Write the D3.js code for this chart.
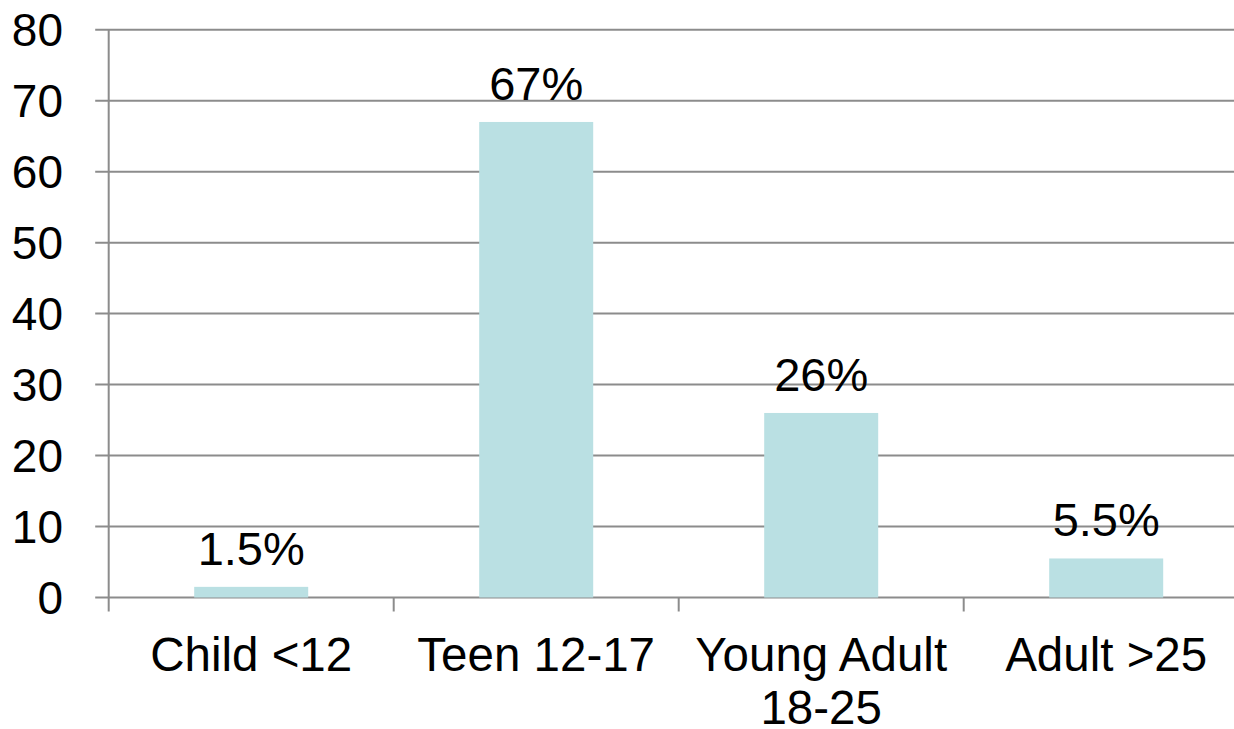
<!DOCTYPE html>
<html>
<head>
<meta charset="utf-8">
<script src="https://cdn.jsdelivr.net/npm/d3@7"></script>
<style>
  html, body { margin: 0; padding: 0; background: #ffffff; }
  svg { display: block; }
</style>
</head>
<body>
<div id="chart"></div>
<script>
// Chart data
const categories = ["Child <12", "Teen 12-17", "Young Adult 18-25", "Adult >25"];
const categoryLines = [["Child <12"], ["Teen 12-17"], ["Young Adult", "18-25"], ["Adult >25"]];
const values = [1.5, 67, 26, 5.5];
const yTicks = [0, 10, 20, 30, 40, 50, 60, 70, 80];

const width = 1234;
const height = 729;
const left = 108.7;
const step = 285;
const fontFamily = "'Liberation Sans', Arial, sans-serif";
const gridColor = "#8c8c8c";
const barColor = "#bae0e3";

const svg = d3.select("#chart")
    .append("svg")
    .attr("width", width)
    .attr("height", height);

// Scales (plot extends slightly past the right edge, as in the original)
const x = d3.scaleBand()
    .domain(categories)
    .range([left, left + step * categories.length])
    .padding(0);

const y = d3.scaleLinear()
    .domain([0, 80])
    .range([597.5, 29.7]);

// Gridlines + y tick stubs
svg.append("g")
    .selectAll("line")
    .data(yTicks)
    .join("line")
    .attr("x1", left - 13.5)
    .attr("x2", width + 20)
    .attr("y1", d => y(d))
    .attr("y2", d => y(d))
    .style("stroke", gridColor)
    .style("stroke-width", 2);

// Y tick labels
svg.append("g")
    .selectAll("text")
    .data(yTicks)
    .join("text")
    .attr("x", 63)
    .attr("y", d => y(d) + 16)
    .attr("text-anchor", "end")
    .style("font-family", fontFamily)
    .style("font-size", "46px")
    .style("fill", "#000")
    .text(d => d);

// Bars
svg.append("g")
    .selectAll("rect")
    .data(values)
    .join("rect")
    .attr("x", (d, i) => x(categories[i]) + x.bandwidth() * 0.3)
    .attr("width", x.bandwidth() * 0.4)
    .attr("y", d => y(d))
    .attr("height", d => y(0) - y(d))
    .style("fill", barColor);

// Y axis line
svg.append("line")
    .attr("x1", left).attr("x2", left)
    .attr("y1", y(80)).attr("y2", y(0) + 14)
    .style("stroke", gridColor)
    .style("stroke-width", 2);

// X tick marks at band boundaries
svg.append("g")
    .selectAll("line")
    .data(categories.slice(1))
    .join("line")
    .attr("x1", d => x(d))
    .attr("x2", d => x(d))
    .attr("y1", y(0))
    .attr("y2", y(0) + 14)
    .style("stroke", gridColor)
    .style("stroke-width", 2);

// Value labels
svg.append("g")
    .selectAll("text")
    .data(values)
    .join("text")
    .attr("x", (d, i) => x(categories[i]) + x.bandwidth() / 2)
    .attr("y", d => y(d) - 22)
    .attr("text-anchor", "middle")
    .style("font-family", fontFamily)
    .style("font-size", "47px")
    .style("fill", "#000")
    .text(d => d + "%");

// Category labels (wrapped)
const catLabels = svg.append("g")
    .selectAll("text")
    .data(categoryLines)
    .join("text")
    .attr("text-anchor", "middle")
    .style("font-family", fontFamily)
    .style("font-size", "47.5px")
    .style("fill", "#000");

catLabels.selectAll("tspan")
    .data((d, i) => d.map(line => ({ line, i })))
    .join("tspan")
    .attr("x", d => x(categories[d.i]) + x.bandwidth() / 2)
    .attr("y", (d, j) => 671 + j * 52.5)
    .text(d => d.line);
</script>
</body>
</html>
